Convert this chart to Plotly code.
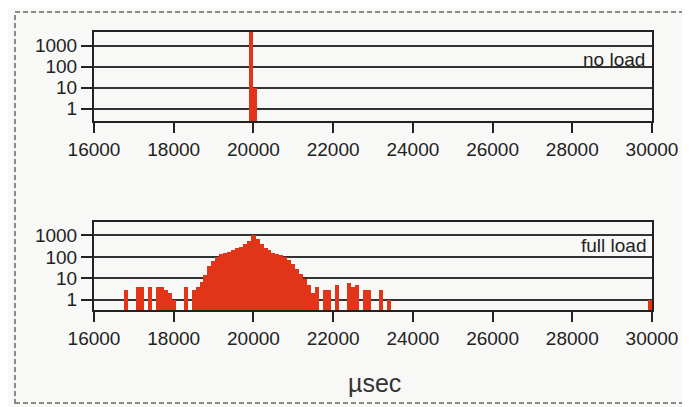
import plotly.graph_objects as go
from plotly.subplots import make_subplots

# ---- data (bin centres in µs, counts) ----
noload_bins = [19950, 20050]
noload_counts = [9000, 10]

fullload_bins = [
    16800, 17100, 17200, 17400, 17600, 17700, 17800, 17900, 18000, 18300,
    18500, 18600, 18700, 18800, 18900, 19000, 19100, 19200, 19300, 19400,
    19500, 19600, 19700, 19800, 19900, 20000, 20100, 20200, 20300, 20400,
    20500, 20600, 20700, 20800, 20900, 21000, 21100, 21200, 21300, 21400,
    21500, 21600, 21800, 21900, 22100, 22400, 22500, 22600, 22800, 22900,
    23200, 23400, 29950,
]
fullload_counts = [
    3, 4, 4, 4, 4, 4, 3, 2, 1, 4,
    3, 4, 7, 15, 37, 64, 100, 130, 150, 175,
    210, 250, 300, 390, 560, 1000, 650, 415, 270, 200,
    160, 140, 120, 96, 70, 46, 28, 16, 9, 5,
    2, 4, 3, 3, 5, 6, 4, 5, 3, 3,
    3, 1, 1,
]

x_ticks = [16000, 18000, 20000, 22000, 24000, 26000, 28000, 30000]
x_ticktext = ["16000", "18000", "20000", "22000", "24000", "26000", "28000", "30000"]
y_ticks = [1, 10, 100, 1000]
y_ticktext = ["1", "10", "100", "1000"]
panel_labels = ["no load", "full load"]
x_title = "µsec"

BAR = "#E23419"
INK = "#222222"
BG = "#F8F8F6"
FONT = "Liberation Sans, Arial, sans-serif"

# page body has an 8px margin; work in window pixels and shift
OFF = 8
W, H = 690 - OFF, 407 - OFF
L, R, T, B = 94 - OFF, 652 - OFF, 32 - OFF, 310 - OFF
ph = B - T
pw = R - L

def yf(py):
    return (B - (py - OFF)) / ph

def xf(px):
    return ((px - OFF) - L) / pw

fig = make_subplots(rows=2, cols=1, vertical_spacing=0.0)

fig.add_trace(go.Bar(x=noload_bins, y=noload_counts, width=100,
                     marker=dict(color=BAR, line=dict(width=0)), showlegend=False),
              row=1, col=1)
fig.add_trace(go.Bar(x=fullload_bins, y=fullload_counts, width=106,
                     marker=dict(color=BAR, line=dict(width=0)), showlegend=False),
              row=2, col=1)

fig.update_layout(
    width=W, height=H,
    margin=dict(l=L, r=W - R, t=T, b=H - B, pad=0),
    paper_bgcolor=BG, plot_bgcolor=BG,
    bargap=0,
    font=dict(family=FONT, size=19, color=INK),
    showlegend=False,
)

axis_common = dict(showline=True, mirror=True, linecolor=INK, linewidth=2,
                   ticks="outside", tickcolor=INK, tickwidth=2)

fig.update_xaxes(range=[16000, 30000], tickvals=x_ticks, ticktext=x_ticktext, ticklen=10,
                 showgrid=False, zeroline=False,
                 tickfont=dict(family=FONT, size=19, color=INK), **axis_common)
fig.update_yaxes(type="log", tickvals=y_ticks, ticktext=y_ticktext, ticklen=11,
                 showgrid=True, gridcolor="#333333", gridwidth=2,
                 tickfont=dict(family=FONT, size=19, color=INK), **axis_common)

fig.update_layout(
    yaxis=dict(domain=[yf(121), 1.0], range=[-0.59, 3.65]),
    yaxis2=dict(domain=[0.0, yf(222)], range=[-0.48, 3.63]),
    xaxis=dict(anchor="y"),
    xaxis2=dict(anchor="y2"),
)

# thicker baseline grid line at 1 (log coordinate 0)
for yr, xr in (("y", "x"), ("y2", "x2")):
    fig.add_shape(type="line", xref=xr + " domain", yref=yr, x0=0, x1=1, y0=0, y1=0,
                  line=dict(color=INK, width=3.5), layer="below")

fig.add_annotation(text=panel_labels[0], xref="x domain", yref="y domain",
                   x=1, y=0.69, xanchor="right", yanchor="middle", xshift=-5,
                   showarrow=False, font=dict(family=FONT, size=19, color=INK))
fig.add_annotation(text=panel_labels[1], xref="x2 domain", yref="y2 domain",
                   x=1, y=0.733, xanchor="right", yanchor="middle", xshift=-3,
                   showarrow=False, font=dict(family=FONT, size=19, color=INK))

fig.add_annotation(text=x_title, xref="paper", yref="paper",
                   x=xf(374), y=yf(383), xanchor="center", yanchor="middle",
                   showarrow=False, font=dict(family=FONT, size=25, color="#333"))

# dashed outer frame
fig.add_shape(type="rect", xref="paper", yref="paper",
              x0=xf(15), x1=xf(686), y0=yf(403), y1=yf(12),
              line=dict(color="#666", width=1.5, dash="5px,3px"), layer="below")

fig.write_html("out.html")
